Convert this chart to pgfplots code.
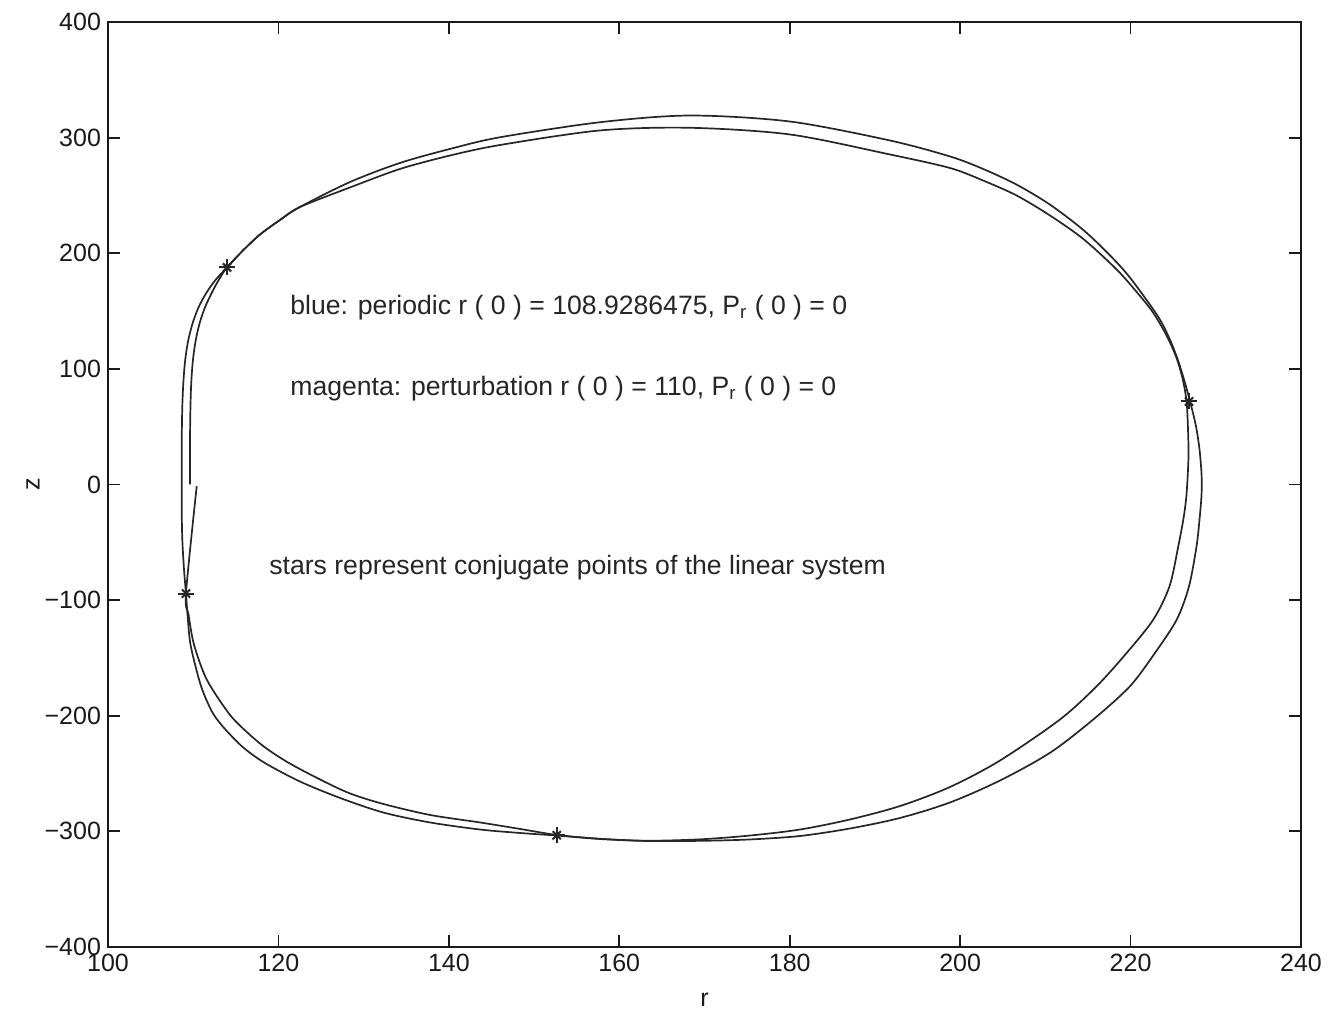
\documentclass[border=0pt]{standalone}
\usepackage{pgfplots}
\pgfplotsset{compat=1.18}
\usepackage{fontspec}
\setmainfont{Liberation Sans}
\begin{document}
\begin{tikzpicture}
\begin{axis}[name=ax, scale only axis, width=596.5pt, height=462.5pt,
  xmin=100, xmax=240, ymin=-400, ymax=400,
  xtick={100,120,140,160,180,200,220,240},
  ytick={-400,-300,-200,-100,0,100,200,300,400},
  xticklabels={100,120,140,160,180,200,220,240},
  yticklabels={−400,−300,−200,−100,0,100,200,300,400},
  tick align=inside, xtick pos=both, ytick pos=both,
  major tick length=6pt,
  axis line style={line width=1pt, black!90},
  every tick/.style={black!90, line width=0.9pt},
  tick label style={font=\fontsize{12.5}{14}\selectfont, text=black!90},
  xlabel={r}, ylabel={z},
  label style={font=\fontsize{12.5}{14}\selectfont, text=black!90},
  xlabel style={at={(axis description cs:0.5,-0.0573)}, anchor=center},
  ylabel style={at={(axis description cs:-0.0629,0.5)}, anchor=center},
  clip=false]
% outer loop
\addplot[black!85, line width=0.85pt, smooth, tension=0.5] coordinates {
(108.65,0) (108.65,34.6) (108.71,64.9) (108.83,86.5) (109.04,106.4) (109.39,123.7)
(109.92,139.2) (110.62,153.1) (111.50,165.2) (112.56,176.4) (113.97,187.7) (115.84,202.4)
(117.84,216.2) (120.19,228.8) (122.53,240.0) (128.40,261.6) (134.27,278.1) (140.13,290.2)
(146.00,300.3) (157.74,313.3) (168.30,319.1) (180.04,313.9) (191.77,297.5) (198.81,283.7)
(202.69,272.9) (206.64,259.3) (210.55,242.0) (214.46,220.1) (217.59,198.1) (219.94,178.8)
(223.07,147.0) (224.40,128.9) (225.45,109.8) (226.27,90.8) (227.04,70.1) (227.68,50.2)
(228.09,30.3) (228.33,8.6) (228.33,-8.6) (228.09,-30.3) (227.74,-53.4) (226.86,-88.0)
(225.42,-116.8) (222.87,-145.6) (219.94,-174.4) (215.63,-203.2) (210.55,-232.0) (204.68,-256.0)
(198.81,-275.0) (192.94,-288.4) (187.08,-297.5) (181.21,-304.0) (175.34,-307.0) (169.47,-308.2)
(163.22,-308.3) (157.74,-306.6) (152.66,-303.6) (148.35,-301.4) (143.66,-298.4) (137.79,-292.3)
(132.31,-283.7) (127.23,-271.1) (122.53,-256.9) (118.42,-240.9) (115.88,-227.5) (113.73,-211.5)
(112.36,-198.5) (111.38,-183.4) (110.68,-168.6) (109.68,-138.4) (109.33,-112.4) (109.15,-94.3)
(108.92,-73.5) (108.72,-47.6) (108.65,-21.6) (108.65,0)
};
% inner loop
\addplot[black!85, line width=0.85pt, smooth, tension=0.5] coordinates {
(109.62,0) (109.62,34.6) (109.67,64.9) (109.76,86.5) (109.95,106.4) (110.27,123.7)
(110.74,139.2) (111.38,153.1) (112.20,166.1) (113.03,177.3) (113.97,187.7) (115.84,202.4)
(117.84,216.2) (120.19,228.8) (122.53,240.0) (128.40,256.9) (134.27,272.9) (140.13,284.5)
(146.00,293.6) (157.74,306.2) (168.30,308.5) (180.04,302.7) (191.77,285.4) (198.81,273.7)
(202.69,262.9) (206.64,249.9) (210.55,232.6) (214.46,212.3) (218.37,185.9) (220.76,166.1)
(222.63,148.8) (224.16,129.7) (225.33,110.7) (226.10,91.7) (226.57,71.8) (226.74,47.6)
(226.80,25.9) (226.68,4.3) (226.51,-13.0) (226.19,-30.3) (225.60,-53.4) (224.57,-88.0)
(222.67,-116.8) (219.55,-145.6) (216.03,-174.4) (211.72,-203.2) (204.68,-238.7) (198.81,-261.6)
(192.94,-278.1) (187.08,-289.7) (181.21,-298.4) (175.34,-303.6) (169.47,-306.9) (163.22,-308.1)
(157.74,-306.4) (152.66,-303.1) (148.35,-297.9) (143.66,-292.3) (137.79,-285.8) (132.31,-276.3)
(128.40,-267.2) (124.88,-255.1) (121.12,-240.4) (118.23,-226.3) (115.84,-211.0) (114.12,-197.4)
(111.58,-168.6) (110.09,-138.4) (109.45,-112.4) (109.15,-94.3) (110.41,-1.5)
};
% conjugate points
\addplot[only marks, mark=+, mark size=4pt, black!85, mark options={line width=1pt}] coordinates {
(113.97,187.7) (226.86,71.8) (152.66,-303.4) (109.15,-94.3)};
\addplot[only marks, mark=x, mark size=2.9pt, black!85, mark options={line width=1pt}] coordinates {
(113.97,187.7) (226.86,71.8) (152.66,-303.4) (109.15,-94.3)};
\node[anchor=base west, inner sep=0pt, font=\fontsize{13.3}{15}\selectfont, text=black!85] at (axis cs:121.36,147.0)
  {blue: periodic r ( 0 ) = 108.9286475, P\textsubscript{r} ( 0 ) = 0};
\node[anchor=base west, inner sep=0pt, font=\fontsize{13.3}{15}\selectfont, text=black!85] at (axis cs:121.36,77.0)
  {magenta: perturbation r ( 0 ) = 110, P\textsubscript{r} ( 0 ) = 0};
\node[anchor=base west, inner sep=0pt, font=\fontsize{13.3}{15}\selectfont, text=black!85] at (axis cs:118.89,-77.8)
  {stars represent conjugate points of the linear system};
\end{axis}
\pgfresetboundingbox
\path ([shift={(-54pt,-34pt)}]ax.south west) rectangle ([shift={(13.5pt,11pt)}]ax.north east);
\end{tikzpicture}
\end{document}
